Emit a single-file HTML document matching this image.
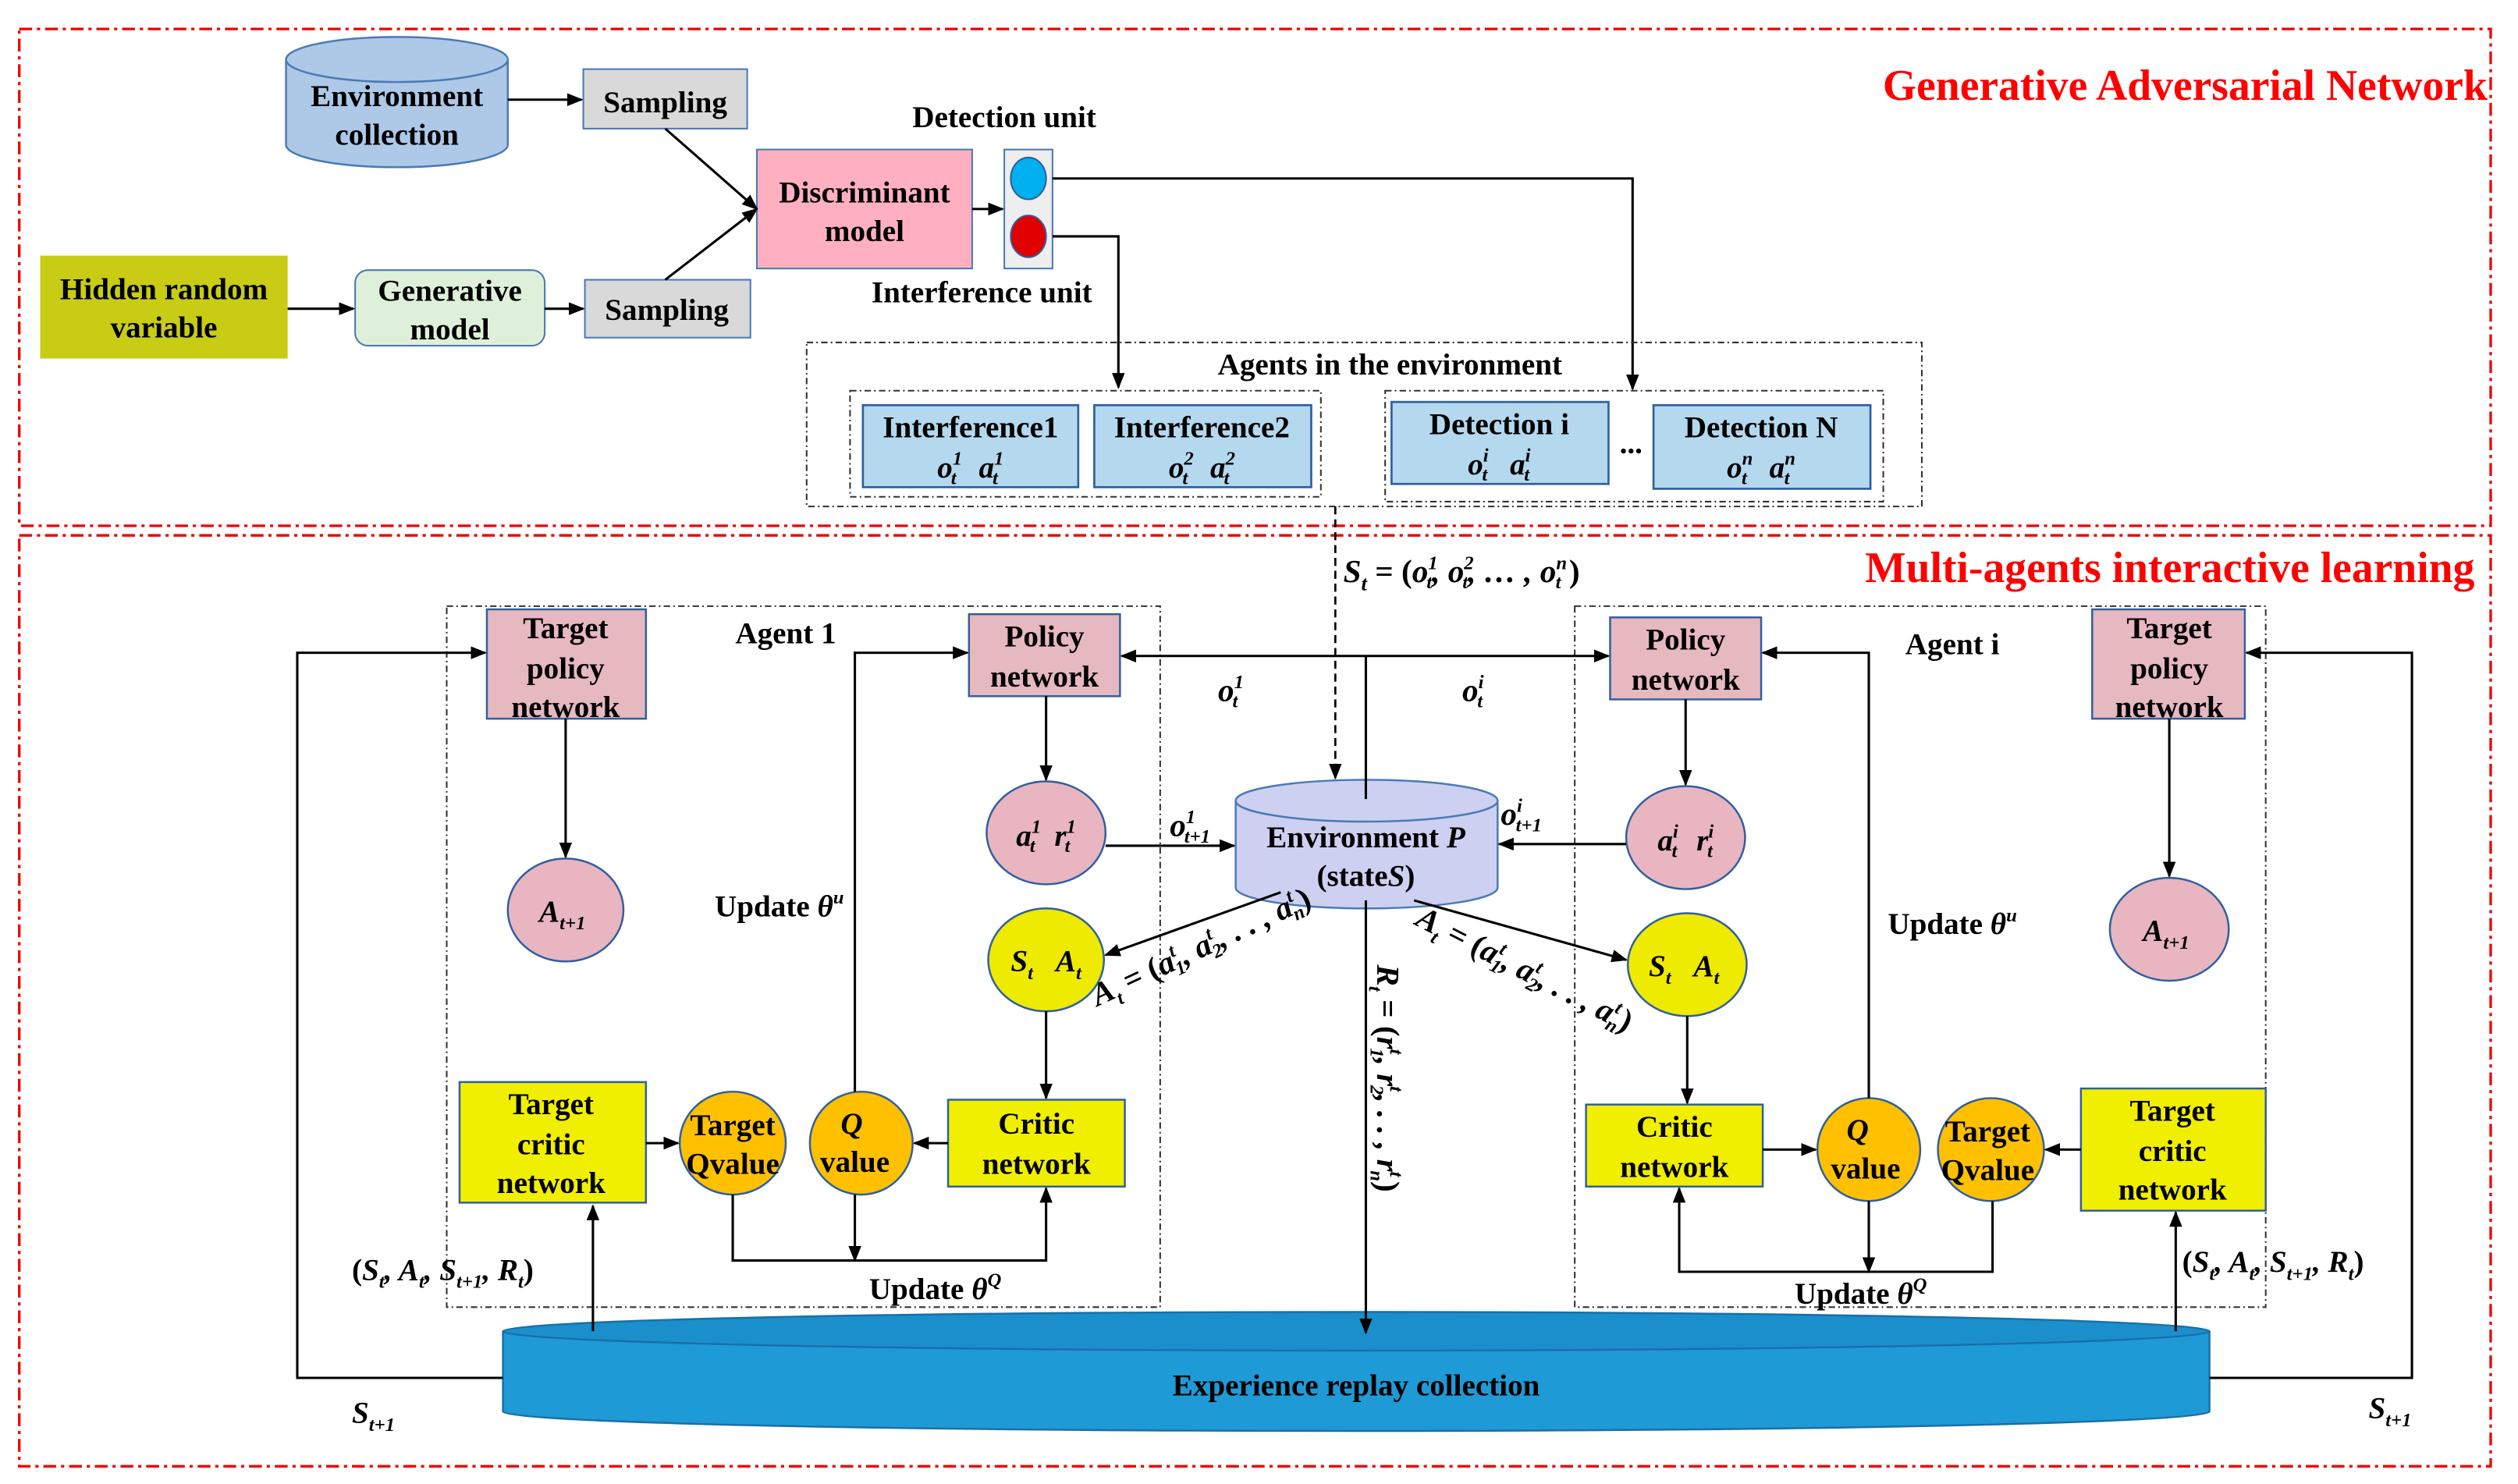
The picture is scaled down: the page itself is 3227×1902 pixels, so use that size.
<!DOCTYPE html>
<html><head><meta charset="utf-8"><style>
html,body{margin:0;padding:0;background:#fff;}
svg{display:block;}
text{font-family:"Liberation Serif",serif;font-weight:bold;fill:#000;}
.t{font-size:19px;text-anchor:middle;}
.m{font-style:italic;}
</style></head><body>
<svg width="3227" height="1902" viewBox="0 0 1567 923" preserveAspectRatio="none" xmlns="http://www.w3.org/2000/svg">
<defs>
<marker id="a" markerWidth="10" markerHeight="8" refX="9" refY="4" orient="auto" markerUnits="userSpaceOnUse"><path d="M0,0 L10,4 L0,8 z" fill="#000"/></marker>
</defs>
<g fill="none" stroke="#e00" stroke-width="1.6" stroke-dasharray="8,3,2,3">
<rect x="12" y="18" width="1538" height="309"/>
<rect x="12" y="333" width="1538" height="579"/>
</g>
<text x="1548" y="62" style="font-size:27px;fill:#f00;text-anchor:end">Generative Adversarial Network</text>
<text x="1540" y="362" style="font-size:27px;fill:#f00;text-anchor:end">Multi-agents interactive learning</text>

<path d="M178,37 L178,90 A69,14 0 0 0 316,90 L316,37" fill="#aec8e8" stroke="#4a7ab5" stroke-width="1.2"/>
<ellipse cx="247" cy="37" rx="69" ry="14" fill="#aec8e8" stroke="#4a7ab5" stroke-width="1.2"/>
<text class="t" x="247" y="66">Environment</text>
<text class="t" x="247" y="90">collection</text>
<rect x="363" y="43" width="102" height="37" fill="#d9d9d9" stroke="#4a7ab5"/>
<text class="t" x="414" y="70">Sampling</text>
<rect x="364" y="174" width="103" height="36" fill="#d9d9d9" stroke="#4a7ab5"/>
<text class="t" x="415" y="199">Sampling</text>
<rect x="471" y="93" width="134" height="74" fill="#ffb0c0" stroke="#4a7ab5"/>
<text class="t" x="538" y="126">Discriminant</text>
<text class="t" x="538" y="150">model</text>
<rect x="625" y="93" width="30" height="74" fill="#eee" stroke="#4a7ab5"/>
<ellipse cx="640" cy="111" rx="11" ry="13" fill="#00b0f0" stroke="#2f5fa0"/>
<ellipse cx="640" cy="147" rx="11" ry="13" fill="#e00000" stroke="#2f5fa0"/>
<text class="t" x="625" y="79">Detection unit</text>
<text class="t" x="611" y="188">Interference unit</text>
<rect x="25" y="159" width="154" height="64" fill="#c8cc14"/>
<text class="t" x="102" y="186">Hidden random</text>
<text class="t" x="102" y="210">variable</text>
<rect x="221" y="168" width="118" height="47" rx="8" fill="#dff0da" stroke="#4a7ab5"/>
<text class="t" x="280" y="187">Generative</text>
<text class="t" x="280" y="211">model</text>
<g stroke="#000" stroke-width="1.5" fill="none" marker-end="url(#a)">
<path d="M316,62 L362,62"/>
<path d="M414,80 L471,130"/>
<path d="M414,174 L471,130"/>
<path d="M605,130 L624,130"/>
<path d="M655,111 L1016,111 L1016,242"/>
<path d="M655,147 L696,147 L696,241"/>
<path d="M179,192 L220,192"/>
<path d="M339,192 L363,192"/>
</g>
<g fill="none" stroke="#333" stroke-width="1" stroke-dasharray="4,2,1,2">
<rect x="502" y="213" width="694" height="102"/>
<rect x="529" y="243" width="293" height="66"/>
<rect x="862" y="243" width="310" height="69"/>
</g>
<text class="t" x="865" y="233">Agents in the environment</text>
<g fill="#b4d8ee" stroke="#2f5fa0" stroke-width="1.3">
<rect x="537" y="252" width="134" height="51"/>
<rect x="681" y="252" width="135" height="51"/>
<rect x="866" y="250" width="135" height="51"/>
<rect x="1029" y="252" width="135" height="52"/>
</g>
<text class="t" x="604" y="272">Interference1</text>
<text class="t m" x="604" y="297">o<tspan font-size="12" dy="-8">1</tspan><tspan font-size="12" dx="-7" dy="12">t</tspan><tspan dy="-4" dx="14">a</tspan><tspan font-size="12" dy="-8">1</tspan><tspan font-size="12" dx="-7" dy="12">t</tspan></text>
<text class="t" x="748" y="272">Interference2</text>
<text class="t m" x="748" y="297">o<tspan font-size="12" dy="-8">2</tspan><tspan font-size="12" dx="-7" dy="12">t</tspan><tspan dy="-4" dx="14">a</tspan><tspan font-size="12" dy="-8">2</tspan><tspan font-size="12" dx="-7" dy="12">t</tspan></text>
<text class="t" x="933" y="270">Detection i</text>
<text class="t m" x="933" y="295">o<tspan font-size="12" dy="-8">i</tspan><tspan font-size="12" dx="-4" dy="12">t</tspan><tspan dy="-4" dx="14">a</tspan><tspan font-size="12" dy="-8">i</tspan><tspan font-size="12" dx="-4" dy="12">t</tspan></text>
<text class="t" x="1096" y="272">Detection N</text>
<text class="t m" x="1096" y="297">o<tspan font-size="12" dy="-8">n</tspan><tspan font-size="12" dx="-7" dy="12">t</tspan><tspan dy="-4" dx="14">a</tspan><tspan font-size="12" dy="-8">n</tspan><tspan font-size="12" dx="-7" dy="12">t</tspan></text>
<text class="t" x="1015" y="282">...</text>
<path d="M831,315 L831,484" stroke="#000" stroke-width="1.3" stroke-dasharray="5,3" fill="none" marker-end="url(#a)"/>

<text x="836" y="362" class="m" style="font-size:20px">S<tspan font-size="13" dy="5">t</tspan><tspan dy="-5" font-style="normal"> = (</tspan>o<tspan font-size="12" dy="-8">1</tspan><tspan font-size="12" dx="-7" dy="12">t</tspan><tspan dy="-4">, o</tspan><tspan font-size="12" dy="-8">2</tspan><tspan font-size="12" dx="-7" dy="12">t</tspan><tspan dy="-4">, … , o</tspan><tspan font-size="12" dy="-8">n</tspan><tspan font-size="12" dx="-7" dy="12">t</tspan><tspan dy="-4" font-style="normal"> )</tspan></text>
<g fill="none" stroke="#333" stroke-width="1" stroke-dasharray="4,2,1,2">
<rect x="278" y="377" width="444" height="436"/>
<rect x="980" y="377" width="430" height="436"/>
</g>
<text class="t" x="489" y="400">Agent 1</text>
<text class="t" x="1215" y="407">Agent i</text>
<g fill="#e6b8c0" stroke="#2f5fa0" stroke-width="1.2">
<rect x="303" y="379" width="99" height="68"/>
<rect x="603" y="382" width="94" height="51"/>
<rect x="1002" y="384" width="94" height="51"/>
<rect x="1302" y="379" width="95" height="68"/>
</g>
<text class="t" x="352" y="397">Target</text><text class="t" x="352" y="422">policy</text><text class="t" x="352" y="446">network</text>
<text class="t" x="1350" y="397">Target</text><text class="t" x="1350" y="422">policy</text><text class="t" x="1350" y="446">network</text>
<text class="t" x="650" y="402">Policy</text><text class="t" x="650" y="427">network</text>
<text class="t" x="1049" y="404">Policy</text><text class="t" x="1049" y="429">network</text>

<g fill="#e8b5c0" stroke="#2f5fa0" stroke-width="1.2">
<ellipse cx="651" cy="518" rx="37" ry="32"/>
<ellipse cx="1049" cy="521" rx="37" ry="32"/>
<ellipse cx="352" cy="566" rx="36" ry="32"/>
<ellipse cx="1350" cy="578" rx="37" ry="32"/>
</g>
<g fill="#eeea00" stroke="#2f5fa0" stroke-width="1.2">
<ellipse cx="651" cy="597" rx="36" ry="32"/>
<ellipse cx="1050" cy="600" rx="37" ry="32"/>
</g>
<g fill="#ffc000" stroke="#2f5fa0" stroke-width="1.2">
<ellipse cx="536" cy="711" rx="32" ry="32"/>
<ellipse cx="456" cy="711" rx="33" ry="32"/>
<ellipse cx="1163" cy="715" rx="32" ry="32"/>
<ellipse cx="1239" cy="715" rx="33" ry="32"/>
</g>
<g fill="#f0ef00" stroke="#2f5fa0" stroke-width="1.2">
<rect x="590" y="684" width="110" height="54"/>
<rect x="987" y="687" width="110" height="51"/>
<rect x="286" y="673" width="116" height="75"/>
<rect x="1295" y="677" width="115" height="76"/>
</g>
<text class="t m" x="651" y="526">a<tspan font-size="12" dy="-8">1</tspan><tspan font-size="12" dx="-7" dy="12">t</tspan><tspan dy="-4" dx="12">r</tspan><tspan font-size="12" dy="-8">1</tspan><tspan font-size="12" dx="-7" dy="12">t</tspan></text>
<text class="t m" x="1049" y="529">a<tspan font-size="12" dy="-8">i</tspan><tspan font-size="12" dx="-4" dy="12">t</tspan><tspan dy="-4" dx="12">r</tspan><tspan font-size="12" dy="-8">i</tspan><tspan font-size="12" dx="-4" dy="12">t</tspan></text>
<text class="t m" x="350" y="573">A<tspan font-size="12" dy="5">t+1</tspan></text>
<text class="t m" x="1348" y="585">A<tspan font-size="12" dy="5">t+1</tspan></text>
<text class="t m" x="651" y="604">S<tspan font-size="12" dy="5">t</tspan><tspan dy="-5" dx="14">A</tspan><tspan font-size="12" dy="5">t</tspan></text>
<text class="t m" x="1048" y="607">S<tspan font-size="12" dy="5">t</tspan><tspan dy="-5" dx="14">A</tspan><tspan font-size="12" dy="5">t</tspan></text>
<text class="t" x="645" y="705">Critic</text><text class="t" x="645" y="730">network</text>
<text class="t" x="1042" y="707">Critic</text><text class="t" x="1042" y="732">network</text>
<text class="t" x="343" y="693">Target</text><text class="t" x="343" y="718">critic</text><text class="t" x="343" y="742">network</text>
<text class="t" x="1352" y="697">Target</text><text class="t" x="1352" y="722">critic</text><text class="t" x="1352" y="746">network</text>
<text class="t m" x="530" y="705">Q</text><text class="t" x="532" y="729">value</text>
<text class="t m" x="1156" y="709">Q</text><text class="t" x="1161" y="733">value</text>
<text class="t" x="456" y="706">Target</text><text class="t" x="456" y="730">Qvalue</text>
<text class="t" x="1237" y="710">Target</text><text class="t" x="1237" y="734">Qvalue</text>

<path d="M769,498 L769,552 A81.5,13 0 0 0 932,552 L932,498" fill="#cdd0f0" stroke="#4a7ab5" stroke-width="1.2"/>
<ellipse cx="850.5" cy="498" rx="81.5" ry="13" fill="#cdd0f0" stroke="#4a7ab5" stroke-width="1.2"/>
<text class="t" x="850" y="527">Environment <tspan font-style="italic">P</tspan></text>
<text class="t" x="850" y="551">(state<tspan font-style="italic">S</tspan>)</text>

<path d="M313,828 L313,878 A531,12 0 0 0 1375,878 L1375,828" fill="#1e9ad6" stroke="#1a6fa8" stroke-width="1.2"/>
<ellipse cx="844" cy="828" rx="531" ry="12" fill="#1b8fcc" stroke="#1a6fa8" stroke-width="1.2"/>
<text class="t" x="844" y="868">Experience replay collection</text>

<g stroke="#000" stroke-width="1.5" fill="none" marker-end="url(#a)">
<path d="M850,408 L698,408"/>
<path d="M850,408 L1001,408"/>
<path d="M651,433 L651,485"/>
<path d="M1049,435 L1049,488"/>
<path d="M688,526 L768,526"/>
<path d="M1012,525 L933,525"/>
<path d="M797,555 L688,594"/>
<path d="M880,560 L1012,597"/>
<path d="M850,560 L850,829"/>
<path d="M651,629 L651,683"/>
<path d="M1050,632 L1050,686"/>
<path d="M590,711 L569,711"/>
<path d="M402,711 L422,711"/>
<path d="M1097,715 L1130,715"/>
<path d="M1295,715 L1273,715"/>
<path d="M456,743 L456,784 L651,784 L651,739"/>
<path d="M532,743 L532,784"/>
<path d="M1163,747 L1163,791"/>
<path d="M1240,747 L1240,791 L1045,791 L1045,739"/>
<path d="M532,679 L532,406 L602,406"/>
<path d="M1163,683 L1163,406 L1097,406"/>
<path d="M352,447 L352,533"/>
<path d="M1350,447 L1350,545"/>
<path d="M369,828 L369,750"/>
<path d="M1354,828 L1354,754"/>
<path d="M313,857 L185,857 L185,406 L302,406"/>
<path d="M1375,857 L1501,857 L1501,406 L1398,406"/>
</g>
<path d="M850,408 L850,497" stroke="#000" stroke-width="1.5"/>

<text class="m" x="758" y="436" style="font-size:20px">o<tspan font-size="12" dy="-8">1</tspan><tspan font-size="12" dx="-7" dy="12">t</tspan></text>
<text class="m" x="910" y="436" style="font-size:20px">o<tspan font-size="12" dy="-8">i</tspan><tspan font-size="12" dx="-4" dy="12">t</tspan></text>
<text class="m" x="728" y="520" style="font-size:20px">o<tspan font-size="12" dy="-8">1</tspan><tspan font-size="12" dx="-7" dy="12">t+1</tspan></text>
<text class="m" x="934" y="513" style="font-size:20px">o<tspan font-size="12" dy="-8">i</tspan><tspan font-size="12" dx="-4" dy="12">t+1</tspan></text>
<text class="t" x="485" y="570">Update <tspan font-style="italic">θ</tspan><tspan font-size="12" dy="-8" font-style="italic">u</tspan></text>
<text class="t" x="1215" y="581">Update <tspan font-style="italic">θ</tspan><tspan font-size="12" dy="-8" font-style="italic">u</tspan></text>
<text class="t" x="582" y="808">Update <tspan font-style="italic">θ</tspan><tspan font-size="12" dy="-8" font-style="italic">Q</tspan></text>
<text class="t" x="1158" y="811">Update <tspan font-style="italic">θ</tspan><tspan font-size="12" dy="-8" font-style="italic">Q</tspan></text>
<text class="m" x="219" y="796" style="font-size:19px"><tspan font-style="normal">(</tspan>S<tspan font-size="12" dy="5">t</tspan><tspan dy="-5">, A</tspan><tspan font-size="12" dy="5">t</tspan><tspan dy="-5">, S</tspan><tspan font-size="12" dy="5">t+1</tspan><tspan dy="-5">, R</tspan><tspan font-size="12" dy="5">t</tspan><tspan dy="-5" font-style="normal">)</tspan></text>
<text class="m" x="1358" y="791" style="font-size:19px"><tspan font-style="normal">(</tspan>S<tspan font-size="12" dy="5">t</tspan><tspan dy="-5">, A</tspan><tspan font-size="12" dy="5">t</tspan><tspan dy="-5">, S</tspan><tspan font-size="12" dy="5">t+1</tspan><tspan dy="-5">, R</tspan><tspan font-size="12" dy="5">t</tspan><tspan dy="-5" font-style="normal">)</tspan></text>
<text class="m" x="219" y="885" style="font-size:19px">S<tspan font-size="12" dy="5">t+1</tspan></text>
<text class="m" x="1474" y="882" style="font-size:19px">S<tspan font-size="12" dy="5">t+1</tspan></text>
<text class="m" transform="translate(683,626) rotate(-25)" style="font-size:20px">A<tspan font-size="12" dy="5">t</tspan><tspan dy="-5" font-style="normal"> = (</tspan>a<tspan font-size="12" dy="-8">t</tspan><tspan font-size="12" dx="-4" dy="12">1</tspan><tspan dy="-4">, a</tspan><tspan font-size="12" dy="-8">t</tspan><tspan font-size="12" dx="-4" dy="12">2</tspan><tspan dy="-4">, . . , a</tspan><tspan font-size="12" dy="-8">t</tspan><tspan font-size="12" dx="-4" dy="12">n</tspan><tspan dy="-4" font-style="normal">)</tspan></text>
<text class="m" transform="translate(880,575) rotate(27)" style="font-size:20px">A<tspan font-size="12" dy="5">t</tspan><tspan dy="-5" font-style="normal"> = (</tspan>a<tspan font-size="12" dy="-8">t</tspan><tspan font-size="12" dx="-4" dy="12">1</tspan><tspan dy="-4">, a</tspan><tspan font-size="12" dy="-8">t</tspan><tspan font-size="12" dx="-4" dy="12">2</tspan><tspan dy="-4">, . . , a</tspan><tspan font-size="12" dy="-8">t</tspan><tspan font-size="12" dx="-4" dy="12">n</tspan><tspan dy="-4" font-style="normal">)</tspan></text>
<text class="m" transform="translate(857,600) rotate(90)" style="font-size:20px">R<tspan font-size="12" dy="5">t</tspan><tspan dy="-5" font-style="normal"> = (</tspan>r<tspan font-size="12" dy="-8">t</tspan><tspan font-size="12" dx="-4" dy="12">1</tspan><tspan dy="-4">, r</tspan><tspan font-size="12" dy="-8">t</tspan><tspan font-size="12" dx="-4" dy="12">2</tspan><tspan dy="-4">, . . , r</tspan><tspan font-size="12" dy="-8">t</tspan><tspan font-size="12" dx="-4" dy="12">n</tspan><tspan dy="-4" font-style="normal">)</tspan></text>
</svg>
</body></html>
